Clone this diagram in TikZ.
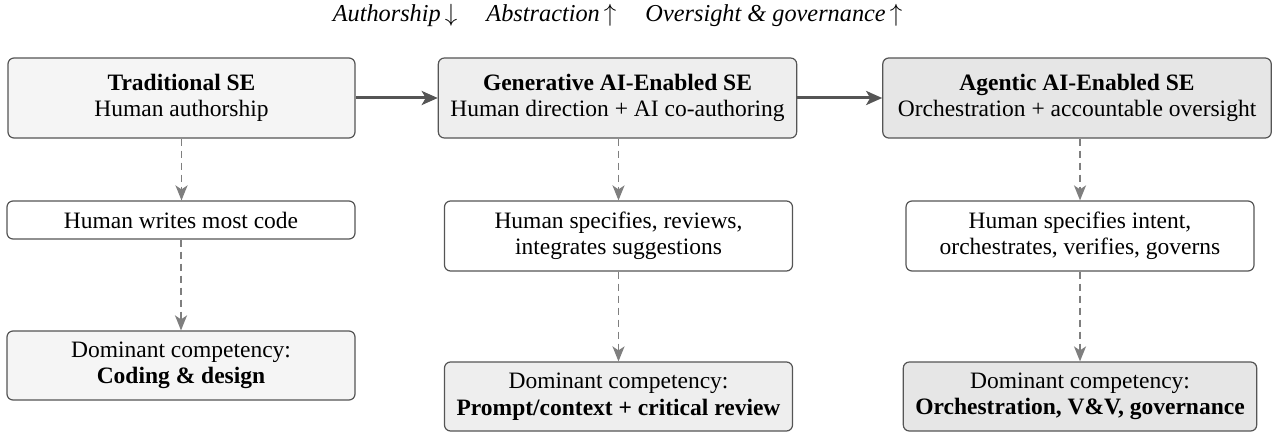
\documentclass[tikz,border=0pt]{standalone}
\usepackage{fontspec}
\setmainfont{Liberation Serif}
\usetikzlibrary{arrows.meta}
\definecolor{bordc}{HTML}{555555}
\definecolor{fillA}{HTML}{F5F5F5}
\definecolor{fillB}{HTML}{EEEEEE}
\definecolor{fillC}{HTML}{E6E6E6}
\definecolor{arrc}{HTML}{555555}
\definecolor{dashc}{HTML}{7F7F7F}
\tikzset{
  base/.style={draw=bordc, line width=1.2pt, rounded corners=6pt, align=center,
    inner xsep=12pt, inner ysep=0pt, font=\fontsize{23.5}{26.5}\selectfont},
  topbox/.style={base, minimum width=347pt, minimum height=80pt},
  midbox/.style={base, fill=white, minimum width=348pt},
  botbox/.style={base, minimum width=348pt, minimum height=69pt},
  mainarrow/.style={draw=arrc, line width=3pt, -{Stealth[length=16pt,width=14pt,inset=4pt]}},
  subarrow/.style={draw=dashc, line width=1.8pt, dash pattern=on 7pt off 5pt,
    -{Stealth[length=15pt,width=12pt,inset=4pt]}}
}
\begin{document}
\begin{tikzpicture}[x=1pt,y=1pt]
\useasboundingbox (0,0) rectangle (1281,-433);
\node[font=\fontsize{24.3}{28}\selectfont\itshape, anchor=base, inner sep=0pt] (title) at (617.5,-22)
  {Authorship\,$\downarrow$\hspace{1.2em}Abstraction\,$\uparrow$\hspace{1.2em}Oversight \& governance\,$\uparrow$};
\node[topbox, fill=fillA] (t1) at (181.5,-98) {\textbf{Traditional SE}\\Human authorship};
\node[topbox, fill=fillB] (t2) at (617.5,-98) {\textbf{Generative AI-Enabled SE}\\Human direction + AI co-authoring};
\node[topbox, fill=fillC, inner xsep=15pt] (t3) at (1077,-98) {\textbf{Agentic AI-Enabled SE}\\Orchestration + accountable oversight};
\node[midbox, minimum height=38pt] (m1) at (181,-220) {Human writes most code};
\node[midbox, minimum height=70pt] (m2) at (618.5,-236) {Human specifies, reviews,\\integrates suggestions};
\node[midbox, minimum height=70pt] (m3) at (1080,-236) {Human specifies intent,\\orchestrates, verifies, governs};
\node[botbox, fill=fillA] (b1) at (181,-365.5) {Dominant competency:\\\textbf{Coding \& design}};
\node[botbox, fill=fillB] (b2) at (618.5,-396.5) {Dominant competency:\\\textbf{Prompt/context + critical review}};
\node[botbox, fill=fillC] (b3) at (1080,-396.5) {Dominant competency:\\\textbf{Orchestration, V\&V, governance}};
\draw[mainarrow] (t1.east) -- (t2.west);
\draw[mainarrow] (t2.east) -- (t3.west);
\draw[subarrow] (t1.south) -- (t1.south |- m1.north);
\draw[subarrow] (m1.south) -- (b1.north);
\draw[subarrow] (t2.south -| m2.north) -- (m2.north);
\draw[subarrow] (m2.south) -- (m2.south |- b2.north);
\draw[subarrow] (t3.south -| m3.north) -- (m3.north);
\draw[subarrow] (m3.south) -- (m3.south |- b3.north);
\end{tikzpicture}
\end{document}
